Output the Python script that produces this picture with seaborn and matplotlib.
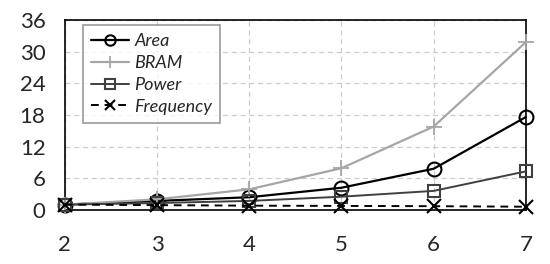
import matplotlib
matplotlib.use('Agg')
import matplotlib.pyplot as plt
import seaborn as sns
import pandas as pd

sns.set_style('white')
plt.rcParams['font.family'] = ['Lato', 'DejaVu Sans']

# 데이터
x_vals = [2, 3, 4, 5, 6, 7]
area = [1.0, 1.7, 2.4, 4.2, 7.8, 17.6]
bram = [1.0, 2.0, 3.9, 7.9, 15.8, 31.8]
power = [1.0, 1.3, 1.7, 2.5, 3.6, 7.3]
frequency = [1.0, 0.9, 0.8, 0.75, 0.7, 0.6]

series = {'Area': area, 'BRAM': bram, 'Power': power, 'Frequency': frequency}
df = pd.DataFrame([(k, x, v) for k, vals in series.items() for x, v in zip(x_vals, vals)],
                  columns=['name', 'x', 'value'])

styles = {
    'Area': dict(color='black', marker='o', ms=10, lw=1.6, ls='-', mfc='none', mew=1.5),
    'BRAM': dict(color='#a6a6a6', marker='+', ms=12, lw=1.6, ls='-', mfc='none', mew=1.3),
    'Power': dict(color='#404040', marker='s', ms=9, lw=1.4, ls='-', mfc='none', mew=1.5),
    'Frequency': dict(color='black', marker='x', ms=10, lw=1.4, ls=(0, (4, 3)), mfc='none', mew=1.5),
}

fig = plt.figure(figsize=(5.5, 2.64), dpi=100)
ax = fig.add_axes([0.118, 0.205, 0.838, 0.719])

for name in series:
    st = styles[name]
    sns.lineplot(data=df[df['name'] == name], x='x', y='value', ax=ax, label=name,
                 color=st['color'], marker=st['marker'], markersize=st['ms'],
                 linewidth=st['lw'], linestyle=st['ls'], markerfacecolor=st['mfc'],
                 markeredgecolor=st['color'], markeredgewidth=st['mew'], clip_on=False, zorder=3)

ax.set_xlim(2, 7)
ax.set_ylim(0, 36)
ax.set_xticks(x_vals)
ax.set_yticks(range(0, 37, 6))
ax.grid(True, color='#cccccc', linestyle=(0, (4, 3)), linewidth=0.9)
for s in ax.spines.values():
    s.set_color('black')
    s.set_linewidth(1.2)
ax.tick_params(axis='x', length=0, pad=18, labelsize=16)
ax.tick_params(axis='y', length=0, pad=14, labelsize=16)
ax.set_xlabel('')
ax.set_ylabel('')

leg = ax.legend(loc='upper left', bbox_to_anchor=(0.039, 0.975), borderaxespad=0,
                prop={'style': 'italic', 'size': 13},
                frameon=True, fancybox=False, edgecolor='#808080', handlelength=2.1,
                borderpad=0.45, labelspacing=0.33, handletextpad=0.3, markerscale=0.75)
leg.get_frame().set_linewidth(1.2)

plt.savefig('out.png', dpi=100)
